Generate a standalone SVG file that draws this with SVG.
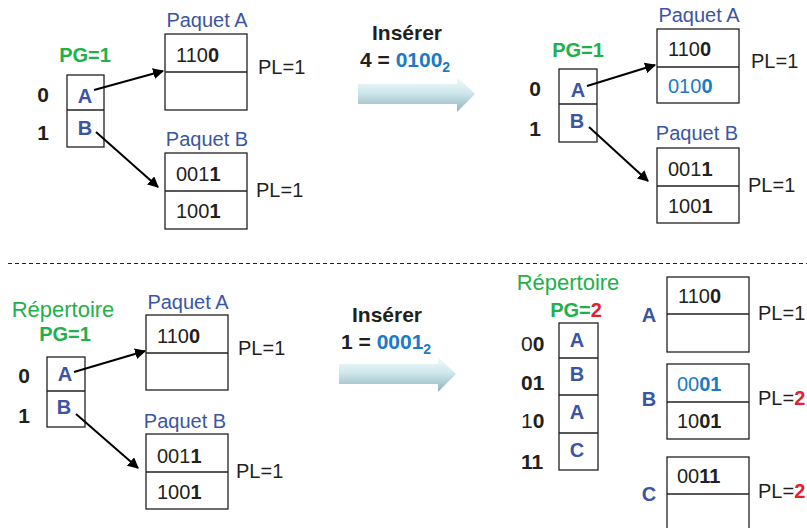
<svg xmlns="http://www.w3.org/2000/svg" width="807" height="528" viewBox="0 0 807 528">
<defs>
<style>
text{font-family:"Liberation Sans",Arial,sans-serif;fill:#231f20}
.t{font-size:20px}
.n{font-size:21px}
.b{font-weight:bold}
.blue{fill:#3b55a3}
.lb{fill:#1c7ac6}
.g{fill:#1eb14b}
.r{fill:#e5212b}
.box{fill:#fff;stroke:#231f20;stroke-width:1.3}
.ln{stroke:#231f20;stroke-width:1.3}
.con{stroke:#000;stroke-width:2;fill:none;marker-end:url(#ah)}
</style>
<marker id="ah" viewBox="0 0 10 10" refX="9" refY="5" markerWidth="5.5" markerHeight="5.5" orient="auto" markerUnits="strokeWidth">
<path d="M0,0 L10,5 L0,10 z" fill="#000"/>
</marker>
<linearGradient id="ag" x1="0" y1="0" x2="0" y2="1">
<stop offset="0" stop-color="#f4fbfc"/>
<stop offset="0.45" stop-color="#cfe7ec"/>
<stop offset="1" stop-color="#8fb3bb"/>
</linearGradient>
<path id="bigarrow" d="M0,7 L99,7 L99,0 L117,17 L99,35 L99,27 L0,27 z"/>
</defs>

<!-- separator -->
<line x1="8" y1="263.5" x2="807" y2="263.5" stroke="#231f20" stroke-width="1" stroke-dasharray="4,3"/>

<!-- ===== Top left ===== -->
<g id="tl-dir">
<text x="85" y="62" class="t b g" text-anchor="middle">PG=1</text>
<rect x="67" y="75" width="37" height="72" class="box"/>
<line x1="67" y1="110" x2="104" y2="110" class="ln"/>
<text x="85" y="103" class="t b blue" text-anchor="middle">A</text>
<text x="85" y="135" class="t b blue" text-anchor="middle">B</text>
<text x="43" y="102" class="n b" text-anchor="middle">0</text>
<text x="43" y="140" class="n b" text-anchor="middle">1</text>
</g>
<g id="tl-bucketA">
<text x="207" y="27" class="t blue" text-anchor="middle">Paquet A</text>
<rect x="165" y="34" width="82" height="76" class="box"/>
<line x1="165" y1="72" x2="247" y2="72" class="ln"/>
<text x="176" y="62" class="t">110<tspan class="b">0</tspan></text>
<text x="258" y="74" class="t">PL=1</text>
</g>
<g id="tl-bucketB">
<text x="207" y="146" class="t blue" text-anchor="middle">Paquet B</text>
<rect x="165" y="153" width="82" height="76" class="box"/>
<line x1="165" y1="191" x2="247" y2="191" class="ln"/>
<text x="176" y="181" class="t">001<tspan class="b">1</tspan></text>
<text x="176" y="218" class="t">100<tspan class="b">1</tspan></text>
<text x="256" y="197" class="t">PL=1</text>
</g>

<!-- ===== Top middle ===== -->
<g id="insert1">
<text x="407" y="40" class="b" font-size="21" text-anchor="middle">Insérer</text>
<text x="360" y="67" class="b" font-size="21">4 = <tspan class="lb">0100</tspan><tspan class="lb" font-size="14" dy="5">2</tspan></text>
<use href="#bigarrow" x="358" y="77" fill="url(#ag)"/>
</g>

<!-- ===== Top right ===== -->
<g id="tr-dir">
<text x="578" y="57" class="t b g" text-anchor="middle">PG=1</text>
<rect x="559" y="69" width="38" height="73" class="box"/>
<line x1="559" y1="104" x2="597" y2="104" class="ln"/>
<text x="578" y="97" class="t b blue" text-anchor="middle">A</text>
<text x="577" y="128" class="t b blue" text-anchor="middle">B</text>
<text x="535" y="96" class="n b" text-anchor="middle">0</text>
<text x="535" y="136" class="n b" text-anchor="middle">1</text>
</g>
<g id="tr-bucketA">
<text x="699" y="22" class="t blue" text-anchor="middle">Paquet A</text>
<rect x="657" y="29" width="82" height="74" class="box"/>
<line x1="657" y1="67" x2="739" y2="67" class="ln"/>
<text x="668" y="56" class="t">110<tspan class="b">0</tspan></text>
<text x="668" y="93" class="t lb">010<tspan class="b">0</tspan></text>
<text x="751" y="68" class="t">PL=1</text>
</g>
<g id="tr-bucketB">
<text x="697" y="140" class="t blue" text-anchor="middle">Paquet B</text>
<rect x="657" y="148" width="82" height="75" class="box"/>
<line x1="657" y1="186" x2="739" y2="186" class="ln"/>
<text x="668" y="176" class="t">001<tspan class="b">1</tspan></text>
<text x="668" y="213" class="t">100<tspan class="b">1</tspan></text>
<text x="748" y="192" class="t">PL=1</text>
</g>

<!-- ===== Bottom left ===== -->
<g id="bl-dir">
<text x="63" y="317" class="g" font-size="22" text-anchor="middle">Répertoire</text>
<text x="65" y="341" class="t b g" text-anchor="middle">PG=1</text>
<rect x="47" y="357" width="38" height="70" class="box"/>
<line x1="47" y1="391" x2="85" y2="391" class="ln"/>
<text x="65" y="381" class="t b blue" text-anchor="middle">A</text>
<text x="64" y="414" class="t b blue" text-anchor="middle">B</text>
<text x="24" y="383" class="n b" text-anchor="middle">0</text>
<text x="24" y="423" class="n b" text-anchor="middle">1</text>
</g>
<g id="bl-bucketA">
<text x="188" y="309" class="t blue" text-anchor="middle">Paquet A</text>
<rect x="146" y="315" width="82" height="75" class="box"/>
<line x1="146" y1="353" x2="228" y2="353" class="ln"/>
<text x="157" y="343" class="t">110<tspan class="b">0</tspan></text>
<text x="238" y="355" class="t">PL=1</text>
</g>
<g id="bl-bucketB">
<text x="185" y="428" class="t blue" text-anchor="middle">Paquet B</text>
<rect x="146" y="434" width="82" height="75" class="box"/>
<line x1="146" y1="472" x2="228" y2="472" class="ln"/>
<text x="157" y="463" class="t">001<tspan class="b">1</tspan></text>
<text x="157" y="499" class="t">100<tspan class="b">1</tspan></text>
<text x="236" y="478" class="t">PL=1</text>
</g>

<!-- ===== Bottom middle ===== -->
<g id="insert2">
<text x="387" y="322" class="b" font-size="21" text-anchor="middle">Insérer</text>
<text x="341" y="349" class="b" font-size="21">1 = <tspan class="lb">0001</tspan><tspan class="lb" font-size="14" dy="5">2</tspan></text>
<use href="#bigarrow" x="339" y="357" fill="url(#ag)"/>
</g>

<!-- ===== Bottom right ===== -->
<g id="br-dir">
<text x="568" y="290" class="g" font-size="22" text-anchor="middle">Répertoire</text>
<text x="576" y="317" class="t b g" text-anchor="middle">PG=<tspan class="r">2</tspan></text>
<rect x="559" y="323" width="39" height="147" class="box"/>
<line x1="559" y1="358" x2="598" y2="358" class="ln"/>
<line x1="559" y1="395" x2="598" y2="395" class="ln"/>
<line x1="559" y1="433" x2="598" y2="433" class="ln"/>
<text x="577" y="347" class="t b blue" text-anchor="middle">A</text>
<text x="577" y="381" class="t b blue" text-anchor="middle">B</text>
<text x="577" y="419" class="t b blue" text-anchor="middle">A</text>
<text x="577" y="457" class="t b blue" text-anchor="middle">C</text>
<text x="521" y="351" class="n">0<tspan class="b">0</tspan></text>
<text x="521" y="390" class="n b">01</text>
<text x="521" y="428" class="n">1<tspan class="b">0</tspan></text>
<text x="521" y="469" class="n b">11</text>
</g>
<g id="br-bucketA">
<text x="649" y="322" class="t b blue" text-anchor="middle">A</text>
<rect x="667" y="277" width="82" height="75" class="box"/>
<line x1="667" y1="314" x2="749" y2="314" class="ln"/>
<text x="678" y="303" class="t">110<tspan class="b">0</tspan></text>
<text x="758" y="320" class="t">PL=1</text>
</g>
<g id="br-bucketB">
<text x="649" y="406" class="t b blue" text-anchor="middle">B</text>
<rect x="667" y="364" width="82" height="75" class="box"/>
<line x1="667" y1="402" x2="749" y2="402" class="ln"/>
<text x="677" y="391" class="t lb">00<tspan class="b">01</tspan></text>
<text x="677" y="428" class="t">10<tspan class="b">01</tspan></text>
<text x="758" y="405" class="t">PL=<tspan class="b r">2</tspan></text>
</g>
<g id="br-bucketC">
<text x="649" y="501" class="t b blue" text-anchor="middle">C</text>
<rect x="667" y="457" width="82" height="80" class="box"/>
<line x1="667" y1="494" x2="749" y2="494" class="ln"/>
<text x="677" y="483" class="t">00<tspan class="b">11</tspan></text>
<text x="758" y="498" class="t">PL=<tspan class="b r">2</tspan></text>
</g>

<!-- connectors -->
<g id="connectors">
<line x1="94" y1="90" x2="163" y2="71" class="con"/>
<line x1="96" y1="132" x2="158" y2="187" class="con"/>
<line x1="587" y1="86" x2="655" y2="65" class="con"/>
<line x1="589" y1="127" x2="648" y2="181" class="con"/>
<line x1="74" y1="372" x2="145" y2="351" class="con"/>
<line x1="76" y1="414" x2="138" y2="468" class="con"/>
</g>
</svg>
